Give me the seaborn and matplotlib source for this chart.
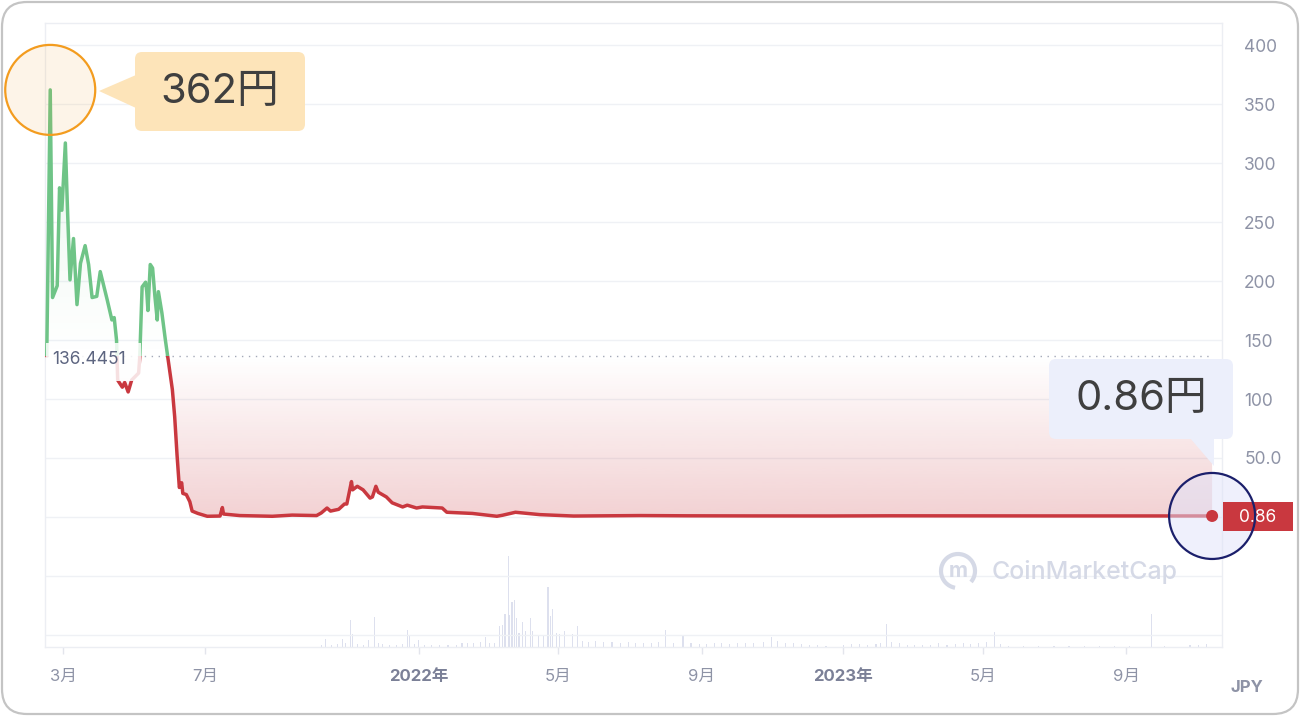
import numpy as np
import pandas as pd
import matplotlib
matplotlib.use('Agg')
import matplotlib.pyplot as plt
import matplotlib.dates as mdates
import matplotlib.colors as mcolors
from matplotlib.path import Path
from matplotlib.patches import Rectangle, FancyBboxPatch, Circle, Polygon, Arc
from matplotlib.transforms import IdentityTransform
import seaborn as sns

# price in JPY
price_dates = [
    '2021-02-15', '2021-02-18', '2021-02-20', '2021-02-24', '2021-02-26', '2021-02-28',
    '2021-03-03', '2021-03-05', '2021-03-07', '2021-03-10', '2021-03-13', '2021-03-16',
    '2021-03-20', '2021-03-23', '2021-03-26', '2021-03-30', '2021-04-02', '2021-04-08',
    '2021-04-12', '2021-04-14', '2021-04-16', '2021-04-17', '2021-04-21', '2021-04-23',
    '2021-04-26', '2021-04-29', '2021-05-05', '2021-05-06', '2021-05-08', '2021-05-11',
    '2021-05-12', '2021-05-13', '2021-05-15', '2021-05-17', '2021-05-19', '2021-05-21',
    '2021-05-22', '2021-05-25', '2021-05-28', '2021-05-30', '2021-06-03', '2021-06-05',
    '2021-06-07', '2021-06-09', '2021-06-11', '2021-06-12', '2021-06-15', '2021-06-18',
    '2021-06-20', '2021-06-25', '2021-07-03', '2021-07-14', '2021-07-16', '2021-07-17',
    '2021-07-31', '2021-08-28', '2021-09-14', '2021-10-05', '2021-10-09', '2021-10-14',
    '2021-10-17', '2021-10-24', '2021-10-29', '2021-10-31', '2021-11-04', '2021-11-05',
    '2021-11-09', '2021-11-14', '2021-11-20', '2021-11-22', '2021-11-25', '2021-11-27',
    '2021-12-04', '2021-12-09', '2021-12-18', '2021-12-22', '2021-12-30', '2022-01-04',
    '2022-01-21', '2022-01-25', '2022-02-16', '2022-03-09', '2022-03-14', '2022-03-25',
    '2022-04-15', '2022-05-14', '2022-07-10', '2022-08-20', '2022-10-15', '2022-12-20',
    '2023-02-10', '2023-04-15', '2023-06-20', '2023-08-25', '2023-10-10', '2023-11-14',
]
price_values = [
    136.4451, 362, 186, 196, 279, 260,
    317, 256, 201, 236, 180, 215,
    230, 214, 186, 187, 208, 184,
    167, 169, 150, 116, 110, 114,
    106, 116, 122, 136, 195, 199,
    191, 175, 214, 211, 187, 167,
    191, 173, 150, 136, 108, 85,
    53, 25, 29, 20, 19, 13,
    5, 3, 0.6, 0.8, 8, 2.5,
    1.2, 0.6, 1.6, 1.2, 3.4, 7.6,
    5, 6.5, 11, 11, 30, 23,
    26, 23, 16, 17, 26, 21,
    17, 12, 8.5, 10, 7.6, 8.5,
    7.6, 4, 3, 0.6, 1.5, 4,
    2, 0.8, 1.2, 1.0, 0.9, 0.85,
    1.0, 0.95, 0.9, 0.88, 0.87, 0.86,
]

# trading volume (relative units)
volume_dates = [
    '2021-10-09', '2021-10-13', '2021-10-18', '2021-10-23', '2021-10-27', '2021-10-30',
    '2021-11-03', '2021-11-05', '2021-11-09', '2021-11-14', '2021-11-19', '2021-11-24',
    '2021-11-27', '2021-12-01', '2021-12-07', '2021-12-13', '2021-12-18', '2021-12-22',
    '2021-12-24', '2021-12-28', '2022-01-01', '2022-01-06', '2022-01-12', '2022-01-19',
    '2022-01-26', '2022-02-02', '2022-02-07', '2022-02-12', '2022-02-17', '2022-02-23',
    '2022-02-27', '2022-03-03', '2022-03-07', '2022-03-11', '2022-03-14', '2022-03-16',
    '2022-03-19', '2022-03-20', '2022-03-22', '2022-03-24', '2022-03-26', '2022-03-28',
    '2022-03-31', '2022-04-03', '2022-04-07', '2022-04-09', '2022-04-14', '2022-04-18',
    '2022-04-22', '2022-04-24', '2022-04-26', '2022-04-29', '2022-05-02', '2022-05-06',
    '2022-05-13', '2022-05-17', '2022-05-22', '2022-05-27', '2022-06-02', '2022-06-09',
    '2022-06-16', '2022-06-23', '2022-06-30', '2022-07-06', '2022-07-13', '2022-07-20',
    '2022-07-26', '2022-08-01', '2022-08-08', '2022-08-16', '2022-08-23', '2022-08-30',
    '2022-09-05', '2022-09-12', '2022-09-18', '2022-09-25', '2022-10-02', '2022-10-09',
    '2022-10-16', '2022-10-24', '2022-10-31', '2022-11-05', '2022-11-12', '2022-11-19',
    '2022-11-26', '2022-12-03', '2022-12-10', '2022-12-17', '2023-01-01', '2023-01-08',
    '2023-01-15', '2023-01-22', '2023-01-29', '2023-02-02', '2023-02-07', '2023-02-11',
    '2023-02-18', '2023-02-25', '2023-03-03', '2023-03-10', '2023-03-17', '2023-03-24',
    '2023-03-31', '2023-04-07', '2023-04-14', '2023-04-20', '2023-04-27', '2023-05-04',
    '2023-05-11', '2023-05-16', '2023-05-23', '2023-06-05', '2023-06-18', '2023-07-01',
    '2023-07-14', '2023-07-27', '2023-08-09', '2023-08-22', '2023-09-04', '2023-09-23',
    '2023-10-04', '2023-10-26', '2023-11-02', '2023-11-09',
]
volume_values = [
    10, 40, 12, 15, 40, 20,
    135, 65, 15, 12, 35, 150,
    20, 15, 12, 12, 15, 85,
    60, 15, 35, 10, 8, 8,
    10, 12, 18, 20, 22, 25,
    50, 20, 18, 105, 110, 165,
    455, 160, 225, 235, 145, 70,
    125, 80, 145, 80, 55, 60,
    300, 155, 190, 70, 65, 80,
    65, 105, 30, 25, 28, 25,
    25, 22, 25, 22, 20, 20,
    25, 85, 20, 55, 18, 15,
    15, 18, 20, 15, 18, 20,
    22, 25, 50, 30, 22, 18,
    15, 10, 8, 5, 12, 15,
    15, 12, 15, 20, 115, 25,
    18, 12, 10, 10, 10, 18,
    12, 15, 20, 15, 20, 25,
    75, 15, 5, 5, 5, 5,
    5, 5, 5, 5, 3, 165,
    3, 10, 12, 15,
]

baseline = 136.4451
tick_dates = ['2021-03-01', '2021-07-01', '2022-01-01', '2022-05-01',
              '2022-09-01', '2023-01-01', '2023-05-01', '2023-09-01']
tick_labels = ['3月', '7月', '2022年', '5月', '9月', '2023年', '5月', '9月']
ytick_values = [-100, -50, 0, 50, 100, 150, 200, 250, 300, 350, 400]
ytick_labels = ['', '', '', '50.0', '100', '150', '200', '250', '300', '350', '400']

GREEN = '#6fc487'
RED = '#c9383f'
TICK = '#8e93a6'

sns.set_theme(style='white')
plt.rcParams['font.family'] = ['Inter', 'Noto Sans CJK JP', 'DejaVu Sans']

df = pd.DataFrame({'date': pd.to_datetime(price_dates), 'price': price_values})
df['x'] = mdates.date2num(df['date'])
vol = pd.DataFrame({'date': pd.to_datetime(volume_dates), 'volume': volume_values})
vol['x'] = mdates.date2num(vol['date'])

W, H = 1300, 716
fig = plt.figure(figsize=(W / 100, H / 100), dpi=100)
fig.patch.set_facecolor('white')
ax = fig.add_axes([45 / W, 69 / H, 1177 / W, 624 / H])

xmin = mdates.date2num(pd.Timestamp('2021-02-13 12:00'))
xmax = mdates.date2num(pd.Timestamp('2023-11-22 12:00'))
ymin, ymax = -110.2, 418.7

# volume on a twin axis, kept behind the price
ax2 = ax.twinx()
ax2.bar(vol['x'], vol['volume'], width=1.0, color='#dde0ee', linewidth=0)
ax2.set_ylim(0, 3120)
ax2.set_yticks([])
for s in ax2.spines.values():
    s.set_visible(False)
ax2.set_zorder(0)
ax.set_zorder(1)
ax.patch.set_visible(False)


def gradient_fill(where, color, a_top, a_bottom, ylo, yhi):
    coll = ax.fill_between(df['x'], df['price'], baseline, where=where,
                           interpolate=True, facecolor='none', edgecolor='none')
    path = Path.make_compound_path(*coll.get_paths())
    grad = np.zeros((256, 1, 4))
    grad[..., :3] = mcolors.to_rgb(color)
    grad[:, 0, 3] = np.linspace(a_top, a_bottom, 256)
    im = ax.imshow(grad, extent=[xmin, xmax, ylo, yhi], origin='upper',
                   aspect='auto', zorder=1, interpolation='bilinear')
    im.set_clip_path(path, transform=ax.transData)


gradient_fill(df['price'] >= baseline, GREEN, 0.16, 0.0, baseline, 362)
gradient_fill(df['price'] <= baseline, RED, 0.0, 0.23, 0, baseline)

# price line, green above the baseline and red below it
sns.lineplot(data=df, x='x', y='price', ax=ax, color=GREEN, linewidth=2.5,
             estimator=None, sort=False, zorder=3)
ax.lines[-1].set_clip_path(Rectangle((xmin, baseline), xmax - xmin, 500,
                                     transform=ax.transData))
sns.lineplot(data=df, x='x', y='price', ax=ax, color=RED, linewidth=2.5,
             estimator=None, sort=False, zorder=3)
ax.lines[-1].set_clip_path(Rectangle((xmin, -200), xmax - xmin, baseline + 200,
                                     transform=ax.transData))

ax.hlines(baseline, df['x'].iloc[0], df['x'].iloc[-1], colors='#a4a9b8',
          linestyles=(0, (1, 4)), linewidth=1, zorder=2)

ax.set_xlim(xmin, xmax)
ax.set_ylim(ymin, ymax)
ax.set_xlabel('')
ax.set_ylabel('')

ax.set_yticks(ytick_values)
ax.set_yticklabels(ytick_labels)
ax.yaxis.tick_right()
ax.tick_params(axis='y', length=0, pad=16, labelsize=12.5, labelcolor=TICK)
ax.grid(axis='y', color='#eff1f5', linewidth=1)
ax.grid(axis='x', visible=False)

ax.set_xticks(mdates.date2num(pd.to_datetime(tick_dates)))
ax.set_xticklabels(tick_labels)
ax.tick_params(axis='x', length=5, width=1, color='#e3e5ec', pad=11,
               labelsize=12, labelcolor=TICK, bottom=True)
for lbl in ax.get_xticklabels():
    if '年' in lbl.get_text():
        lbl.set_fontweight('bold')
        lbl.set_color('#7b8097')
for s in ax.spines.values():
    s.set_color('#eceef3')
    s.set_linewidth(1)

ID = IdentityTransform()


def to_px(xv, yv):
    return ax.transData.transform((xv, yv))


def add(artist):
    fig.add_artist(artist)
    return artist


# baseline label
add(Rectangle((46, H - 381), 95, 38, transform=ID, fc='white', ec='none',
              alpha=0.85, zorder=4))
fig.text(52, H - 360, '136.4451', transform=ID, ha='left', va='center',
         fontsize=12.5, color='#5d6580', zorder=5)

# peak callout
peak_i = int(np.argmax(df['price']))
px_peak = to_px(df['x'].iloc[peak_i], df['price'].iloc[peak_i])
add(Circle(px_peak, 45, transform=ID, fc=(0.95, 0.61, 0.12, 0.10),
           ec='#f39c1f', lw=1.6, zorder=6))
add(FancyBboxPatch((135, H - 131), 170, 79, boxstyle='round,pad=0,rounding_size=7',
                   transform=ID, fc='#fde4b9', ec='none', zorder=5))
add(Polygon([(99, H - 91), (136, H - 75), (136, H - 108)], closed=True,
            transform=ID, fc='#fde4b9', ec='none', zorder=5))
fig.text(220, H - 92, '362円', transform=ID, ha='center', va='center',
         fontsize=30, color='#3f3f3f', zorder=6)

# last price callout
px_last = to_px(df['x'].iloc[-1], df['price'].iloc[-1])
add(FancyBboxPatch((1049, H - 439), 184, 80, boxstyle='round,pad=0,rounding_size=7',
                   transform=ID, fc='#eceffb', ec='none', zorder=5))
add(Polygon([(1190, H - 438), (1214, H - 438), (1214, H - 466)], closed=True,
            transform=ID, fc='#eceffb', ec='none', zorder=5))
fig.text(1141, H - 399, '0.86円', transform=ID, ha='center', va='center',
         fontsize=30, color='#3f3f3f', zorder=6)
add(Circle(px_last, 43, transform=ID, fc=(0.88, 0.89, 0.98, 0.5),
           ec='none', zorder=4.5))
add(Rectangle((1223, H - 531), 70, 29, transform=ID, fc=RED, ec='none', zorder=5))
fig.text(1258, H - 517, '0.86', transform=ID, ha='center', va='center',
         fontsize=12.5, color='white', zorder=6)
add(Circle(px_last, 43, transform=ID, fc='none', ec='#1b1f6b', lw=1.6, zorder=7))
add(Circle(px_last, 6, transform=ID, fc=RED, ec='none', zorder=8))

# watermark
add(Arc((958, H - 571), 34, 34, theta1=-40, theta2=260, transform=ID,
        color='#d5d9e6', lw=3, zorder=3))
fig.text(958, H - 571, 'm', transform=ID, ha='center', va='center', fontsize=15,
         fontweight='bold', color='#d5d9e6', zorder=3)
fig.text(992, H - 572, 'CoinMarketCap', transform=ID, ha='left', va='center',
         fontsize=18, color='#d5d9e6', fontweight='medium', zorder=3)

fig.text(1247, H - 687, 'JPY', transform=ID, ha='center', va='center',
         fontsize=12, fontweight='bold', color=TICK)

# outer rounded frame
add(FancyBboxPatch((0.02, 0.02), W / 100 - 0.04, H / 100 - 0.04,
                   boxstyle='round,pad=0,rounding_size=0.25',
                   transform=fig.dpi_scale_trans, fc='none', ec='#c4c4c4',
                   lw=1.6, zorder=10))

fig.savefig('out.png', dpi=100)
